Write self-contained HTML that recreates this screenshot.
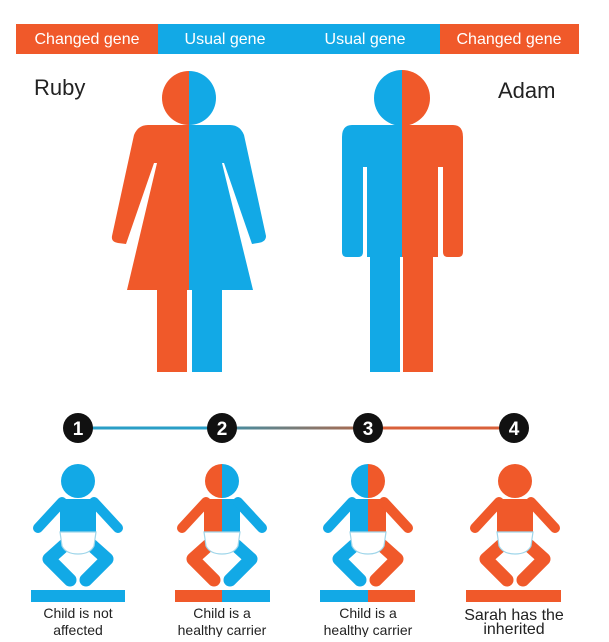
<!DOCTYPE html>
<html><head><meta charset="utf-8"><style>
html,body{margin:0;padding:0;background:#fff;}
body{width:609px;height:637px;overflow:hidden;font-family:"Liberation Sans",sans-serif;}
</style></head><body>
<svg width="609" height="637" viewBox="0 0 609 637" xmlns="http://www.w3.org/2000/svg" font-family="Liberation Sans, sans-serif">
<defs>
<linearGradient id="g23" gradientUnits="userSpaceOnUse" x1="222" y1="0" x2="368" y2="0"><stop offset="0" stop-color="#3f8fa6"/><stop offset="1" stop-color="#b0684a"/></linearGradient>
</defs>
<!-- header -->
<rect x="16" y="24" width="142" height="30" fill="#f0592a"/>
<rect x="158" y="24" width="282" height="30" fill="#12a9e6"/>
<rect x="440" y="24" width="139" height="30" fill="#f0592a"/>
<g fill="#fff" font-size="16">
<text x="87" y="44" text-anchor="middle">Changed gene</text>
<text x="225" y="44" text-anchor="middle">Usual gene</text>
<text x="365" y="44" text-anchor="middle">Usual gene</text>
<text x="509" y="44" text-anchor="middle">Changed gene</text>
</g>
<text x="34" y="95" font-size="22" fill="#222">Ruby</text>
<text x="498" y="98" font-size="22" fill="#222">Adam</text>

<defs>
<g id="woman">
<circle cx="189" cy="98" r="27"/>
<path d="M148 125 H230 Q240 125 244 135 L266 236 Q266 242 258 243 L252 244 L224 163 L222 163 L253 290 H222 V372 H192 V290 H187 V372 H157 V290 H127 L157 163 L154 163 L126 244 L118 243 Q111 242 112 236 L134 135 Q138 125 148 125 Z"/>
</g>
<g id="man">
<circle cx="402" cy="98" r="28"/>
<path d="M352 125 H453 Q463 125 463 137 V252 Q463 257 458 257 H448 Q443 257 443 252 V167 H438 V257 H433 V372 H403 V257 H400 V372 H370 V257 H367 V167 H363 V252 Q363 257 358 257 H347 Q342 257 342 252 V137 Q342 125 352 125 Z"/>
</g>
<clipPath id="wl"><rect x="0" y="0" width="189" height="400"/></clipPath>
<clipPath id="wr"><rect x="189" y="0" width="200" height="400"/></clipPath>
<clipPath id="ml"><rect x="0" y="0" width="402" height="400"/></clipPath>
<clipPath id="mr"><rect x="402" y="0" width="200" height="400"/></clipPath>
</defs>
<use href="#woman" fill="#12a9e6" clip-path="url(#wr)"/>
<use href="#woman" fill="#f0592a" clip-path="url(#wl)"/>
<use href="#man" fill="#f0592a" clip-path="url(#mr)"/>
<use href="#man" fill="#12a9e6" clip-path="url(#ml)"/>

<!-- timeline -->
<rect x="78" y="426.5" width="144" height="3" fill="#2a9ec6"/>
<rect x="222" y="426.5" width="146" height="3" fill="url(#g23)"/>
<rect x="368" y="426.5" width="146" height="3" fill="#d9603a"/>
<g font-size="19" font-weight="bold" fill="#fff" text-anchor="middle">
<circle cx="78" cy="428" r="15" fill="#111"/><text x="78" y="435">1</text>
<circle cx="222" cy="428" r="15" fill="#111"/><text x="222" y="435">2</text>
<circle cx="368" cy="428" r="15" fill="#111"/><text x="368" y="435">3</text>
<circle cx="514" cy="428" r="15" fill="#111"/><text x="514" y="435">4</text>
</g>

<defs>
<g id="babyshape">
<circle cx="0" cy="481" r="17"/>
<rect x="-18" y="499" width="36" height="34"/>
<path d="M-16 502 L-40 528" stroke-width="10" stroke-linecap="round" stroke="currentColor"/>
<path d="M16 502 L40 528" stroke-width="10" stroke-linecap="round" stroke="currentColor"/>
<path d="M-10 542 L-29 559 L-8 580" stroke-width="13" stroke-linejoin="round" stroke-linecap="round" fill="none" stroke="currentColor"/>
<path d="M10 542 L29 559 L8 580" stroke-width="13" stroke-linejoin="round" stroke-linecap="round" fill="none" stroke="currentColor"/>
</g>
<clipPath id="hl"><rect x="-60" y="440" width="60" height="200"/></clipPath>
<clipPath id="hr"><rect x="0" y="440" width="60" height="200"/></clipPath>
<path id="diaper" d="M-18 532 H18 L16 546 Q12 554 0 554 Q-12 554 -16 546 Z" fill="#fff" stroke="#9fd6ea" stroke-width="1.2"/>
</defs>

<g transform="translate(78,0)">
<use href="#babyshape" fill="#12a9e6" color="#12a9e6"/>
<use href="#diaper"/>
</g>
<g transform="translate(222,0)">
<use href="#babyshape" fill="#f0592a" color="#f0592a" clip-path="url(#hl)"/>
<use href="#babyshape" fill="#12a9e6" color="#12a9e6" clip-path="url(#hr)"/>
<use href="#diaper"/>
</g>
<g transform="translate(368,0)">
<use href="#babyshape" fill="#12a9e6" color="#12a9e6" clip-path="url(#hl)"/>
<use href="#babyshape" fill="#f0592a" color="#f0592a" clip-path="url(#hr)"/>
<use href="#diaper"/>
</g>
<g transform="translate(515,0)">
<use href="#babyshape" fill="#f0592a" color="#f0592a"/>
<use href="#diaper"/>
</g>

<!-- bars -->
<rect x="31" y="590" width="94" height="12" fill="#12a9e6"/>
<rect x="175" y="590" width="47" height="12" fill="#f0592a"/>
<rect x="222" y="590" width="48" height="12" fill="#12a9e6"/>
<rect x="320" y="590" width="48" height="12" fill="#12a9e6"/>
<rect x="368" y="590" width="47" height="12" fill="#f0592a"/>
<rect x="466" y="590" width="95" height="12" fill="#f0592a"/>

<g font-size="14" fill="#222" text-anchor="middle">
<text x="78" y="618">Child is not</text><text x="78" y="635">affected</text>
<text x="222" y="618">Child is a</text><text x="222" y="635">healthy carrier</text>
<text x="368" y="618">Child is a</text><text x="368" y="635">healthy carrier</text>
<text x="514" y="620" font-size="16">Sarah has the</text><text x="514" y="634" font-size="16">inherited</text>
</g>
</svg>
</body></html>
